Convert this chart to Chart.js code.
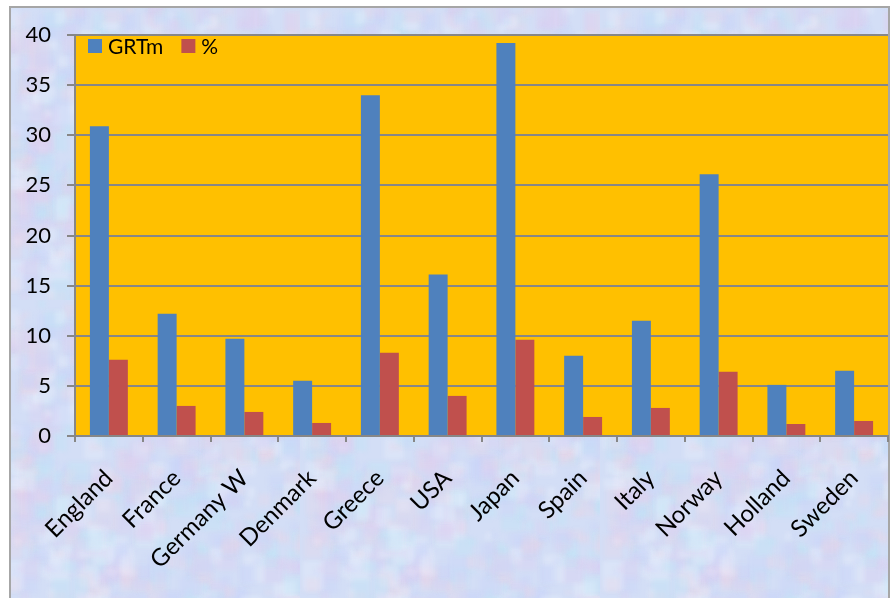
<!DOCTYPE html>
<html>
<head>
<meta charset="utf-8">
<style>
  html, body { margin: 0; padding: 0; background: #fff; }
  canvas { display: block; }
</style>
</head>
<body>
<canvas id="fleetChart" width="891" height="598"></canvas>
<script src="https://cdn.jsdelivr.net/npm/chart.js"></script>
<script>
// fleet tonnage by flag, and share of world total
let countries = ['England', 'France', 'Germany W', 'Denmark', 'Greece', 'USA', 'Japan', 'Spain', 'Italy', 'Norway', 'Holland', 'Sweden'];
let grtm = [30.9, 12.2, 9.7, 5.5, 34.0, 16.1, 39.2, 8.0, 11.5, 26.1, 5.1, 6.5];
let percent = [7.6, 3.0, 2.4, 1.3, 8.3, 4.0, 9.6, 1.9, 2.8, 6.4, 1.2, 1.5];
let yTicks = [0, 5, 10, 15, 20, 25, 30, 35, 40];

const BLUE = '#4F81BD';
const RED = '#C0504D';
const ORANGE = '#FFC000';
const GRID = '#878787';
const FONT = 'Lato, "Open Sans", sans-serif';

// mottled pale blue paper behind the plot
function makeTexture() {
    let c = document.createElement('canvas');
    c.width = 300; c.height = 300;
    let g = c.getContext('2d');
    g.fillStyle = '#D3DEF6';
    g.fillRect(0, 0, 300, 300);
    let seed = 11;
    let rnd = () => { seed = (seed * 16807) % 2147483647; return seed / 2147483647; };
    let tints = ['rgba(190,228,245,0.35)', 'rgba(222,205,240,0.35)', 'rgba(240,212,228,0.25)', 'rgba(200,212,250,0.35)', 'rgba(236,240,252,0.35)'];
    g.filter = 'blur(2px)';
    for (let i = 0; i < 700; i++) {
        g.fillStyle = tints[Math.floor(rnd() * tints.length)];
        let s = 6 + rnd() * 16;
        g.fillRect(rnd() * 300, rnd() * 300, s, s * (0.5 + rnd()));
    }
    return c;
}

const framePlugin = {
    id: 'frame',
    beforeDraw(chart) {
        let g = chart.ctx;
        let a = chart.chartArea;
        g.save();
        g.fillStyle = '#fff';
        g.fillRect(0, 0, chart.width, chart.height);
        g.fillStyle = g.createPattern(makeTexture(), 'repeat');
        g.fillRect(10, 7, 879, 600);
        g.strokeStyle = '#A6A6A6';
        g.lineWidth = 2;
        g.strokeRect(10, 7, 879, 600);
        g.fillStyle = ORANGE;
        g.fillRect(a.left, a.top, a.right - a.left, a.bottom - a.top);
        g.restore();
    }
};

// legend sits inside the plot, top left
const insideLegend = {
    id: 'insideLegend',
    afterDatasetsDraw(chart) {
        let g = chart.ctx;
        let a = chart.chartArea;
        g.save();
        g.font = '21px ' + FONT;
        g.textBaseline = 'middle';
        let x = a.left + 13;
        let y = a.top + 11;
        chart.data.datasets.forEach(ds => {
            g.fillStyle = ds.backgroundColor;
            g.fillRect(x, y - 7, 14, 14);
            g.fillStyle = '#000';
            g.fillText(ds.label, x + 20, y + 1);
            x += 20 + g.measureText(ds.label).width + 18;
        });
        g.restore();
    }
};

new Chart(document.getElementById('fleetChart').getContext('2d'), {
    type: 'bar',
    data: {
        labels: countries,
        datasets: [
            { label: 'GRTm', data: grtm, backgroundColor: BLUE },
            { label: '%', data: percent, backgroundColor: RED }
        ]
    },
    options: {
        responsive: false,
        animation: false,
        devicePixelRatio: 1,
        layout: { padding: { top: 35, right: 3, left: 0, bottom: 0 } },
        datasets: { bar: { categoryPercentage: 0.56, barPercentage: 1 } },
        plugins: { legend: { display: false }, tooltip: { enabled: false } },
        scales: {
            x: {
                // fixed band under the plot; rotated labels may spill freely
                afterFit: s => { s.height = 162; s.paddingLeft = 0; s.paddingRight = 0; },
                grid: { offset: true, drawOnChartArea: false, color: GRID, lineWidth: 2, tickLength: 6 },
                border: { color: GRID, width: 2 },
                ticks: {
                    color: '#000',
                    minRotation: 45, maxRotation: 45,
                    padding: 22,
                    font: { family: FONT, size: 24 }
                }
            },
            y: {
                min: 0, max: 40,
                afterFit: s => { s.width = 75; },
                afterBuildTicks: s => { s.ticks = yTicks.map(v => ({ value: v })); },
                grid: { color: GRID, lineWidth: 2, tickLength: 8 },
                border: { color: GRID, width: 2 },
                ticks: {
                    color: '#000',
                    padding: 16,
                    font: { family: FONT, size: 22 }
                }
            }
        }
    },
    plugins: [framePlugin, insideLegend]
});
</script>
</body>
</html>
